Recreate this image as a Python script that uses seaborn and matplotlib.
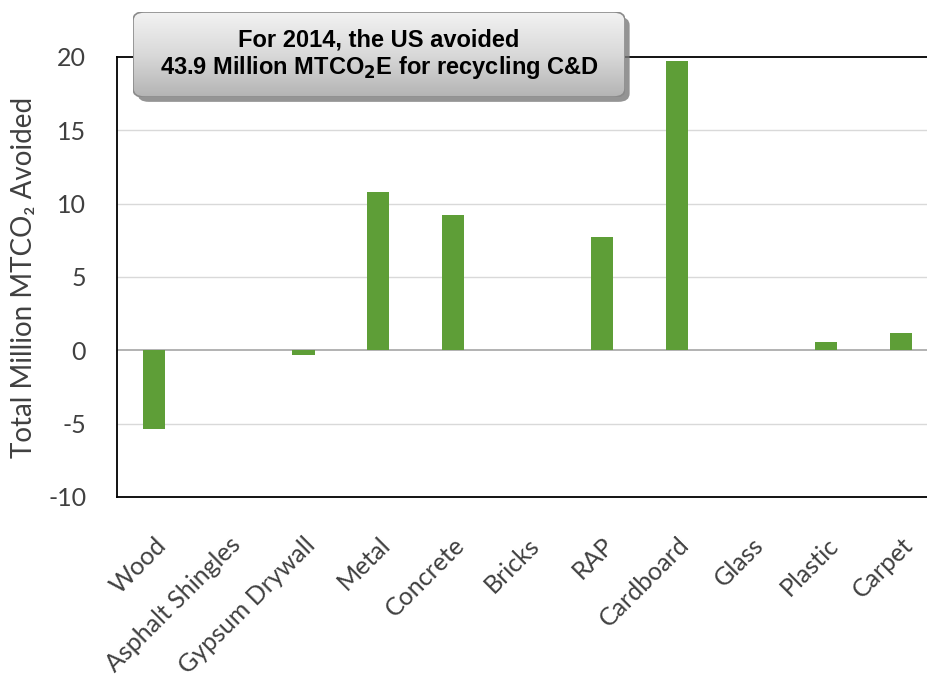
import numpy as np
import pandas as pd
import matplotlib
matplotlib.use("Agg")
import matplotlib.pyplot as plt
import seaborn as sns
from matplotlib.patches import FancyBboxPatch

categories = ["Wood", "Asphalt Shingles", "Gypsum Drywall", "Metal", "Concrete",
              "Bricks", "RAP", "Cardboard", "Glass", "Plastic", "Carpet"]
values = [-5.4, 0.05, -0.3, 10.8, 9.2, 0.0, 7.7, 19.7, 0.0, 0.55, 1.15]
yticks = [-10, -5, 0, 5, 10, 15, 20]

sns.set_theme(style="white")
plt.rcParams['font.family'] = ['Lato', 'DejaVu Sans']

fig = plt.figure(figsize=(9.27, 6.95), dpi=100)
ax = fig.add_axes([0.126, 0.285, 0.874, 0.633])

df = pd.DataFrame({"cat": categories, "val": values})
sns.barplot(data=df, x="cat", y="val", color="#5E9E37", width=0.3,
            saturation=1, ax=ax, edgecolor="none")

ax.set_ylim(-10, 20)
ax.set_xlim(-0.5, 10.35)
ax.set_yticks(yticks)
ax.set_yticklabels([str(v) for v in yticks], fontsize=18, color="#404040")
for v in [-5, 5, 10, 15]:
    ax.axhline(v, color="#d9d9d9", lw=1, zorder=0)
ax.axhline(0, color="#a6a6a6", lw=1.2, zorder=0.5)

ax.set_xticks(range(len(categories)))
ax.set_xticklabels(categories, rotation=45, ha="right", rotation_mode="anchor",
                   fontsize=18, color="#404040")
ax.tick_params(axis="y", length=0, pad=22)
ax.tick_params(axis="x", length=0, pad=26)
ax.set_xlabel("")
ax.set_ylabel("Total Million MTCO₂ Avoided", fontsize=20, color="#404040", labelpad=8)

for s in ["left", "top", "bottom"]:
    ax.spines[s].set_color("black")
    ax.spines[s].set_linewidth(1.3)
ax.spines["right"].set_visible(False)

# Title box with gradient
bx0, by0, bw, bh = 133/927, 1-97/695, (625-133)/927, (97-12)/695
shadow = FancyBboxPatch((bx0+0.005, by0-0.007), bw, bh,
                        boxstyle="round,pad=0,rounding_size=0.012",
                        transform=fig.transFigure, facecolor="#7a7a7a",
                        edgecolor="none", alpha=0.8, zorder=5)
fig.patches.append(shadow)
grad_ax = fig.add_axes([bx0, by0, bw, bh], zorder=6)
grad_ax.set_axis_off()
g = np.linspace(0, 1, 100).reshape(-1, 1)
im = grad_ax.imshow(g, aspect="auto", cmap=matplotlib.colors.LinearSegmentedColormap.from_list(
    "g", ["#f2f2f2", "#d9d9d9", "#b4b4b4"]), extent=[0, 1, 0, 1], origin="upper")
fill_patch = FancyBboxPatch((bx0, by0), bw, bh,
                            boxstyle="round,pad=0,rounding_size=0.012",
                            transform=fig.transFigure, facecolor="none", edgecolor="none")
fig.patches.append(fill_patch)
im.set_clip_path(fill_patch)
box = FancyBboxPatch((bx0, by0), bw, bh,
                     boxstyle="round,pad=0,rounding_size=0.012",
                     transform=fig.transFigure, facecolor="none",
                     edgecolor="#8a8a8a", lw=1.2, zorder=8)
grad_ax.add_artist(box)
grad_ax.text(0.5, 0.67, "For 2014, the US avoided", ha="center", va="center",
             fontsize=17, fontweight="bold", family="Liberation Sans", color="black",
             transform=grad_ax.transAxes)
grad_ax.text(0.5, 0.35, "43.9 Million MTCO$_\\mathbf{2}$E for recycling C&D", ha="center", va="center",
             fontsize=17, fontweight="bold", family="Liberation Sans", color="black",
             transform=grad_ax.transAxes)

fig.savefig("out.png", dpi=100)
